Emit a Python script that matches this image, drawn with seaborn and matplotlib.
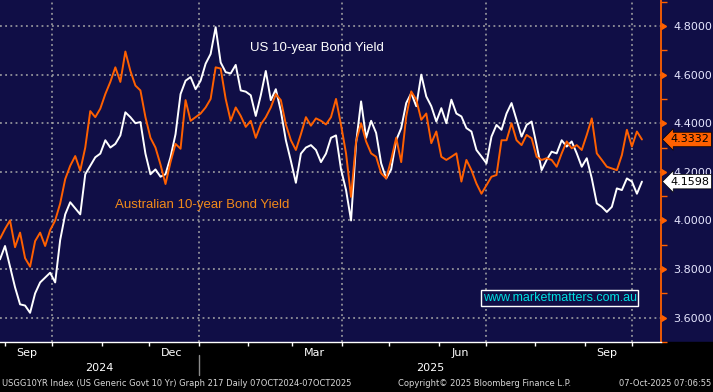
import numpy as np
import pandas as pd
import matplotlib
matplotlib.use("Agg")
import matplotlib.pyplot as plt
import matplotlib.dates as mdates
import matplotlib.transforms as mtransforms
from matplotlib.patches import Rectangle
from matplotlib.ticker import MultipleLocator, FormatStrFormatter
import seaborn as sns

# daily yields, roughly every 3 days from late Aug 2024 to 07 Oct 2025
us_yield = [3.84, 3.895, 3.81, 3.725, 3.655, 3.65, 3.62, 3.70, 3.745, 3.765,
            3.785, 3.745, 3.92, 4.025, 4.075, 4.05, 4.025, 4.19, 4.225, 4.26,
            4.275, 4.33, 4.30, 4.315, 4.35, 4.445, 4.425, 4.40, 4.405, 4.275,
            4.19, 4.21, 4.18, 4.19,
            4.26, 4.355, 4.52, 4.575, 4.59, 4.54, 4.575, 4.645, 4.685, 4.795,
            4.65, 4.61, 4.605, 4.64, 4.535, 4.53, 4.515, 4.43, 4.515, 4.615,
            4.495, 4.54, 4.45, 4.33, 4.245, 4.155, 4.275, 4.30, 4.31, 4.29,
            4.24, 4.275, 4.34,
            4.35, 4.21, 4.125, 4.0, 4.318, 4.49, 4.34, 4.41, 4.36, 4.235,
            4.173, 4.21, 4.33, 4.38, 4.483, 4.524, 4.47, 4.60, 4.51, 4.47,
            4.407, 4.462, 4.40, 4.497, 4.44, 4.428, 4.38, 4.366, 4.29, 4.263,
            4.235, 4.345, 4.393,
            4.373, 4.44, 4.483, 4.414, 4.345, 4.393, 4.407, 4.31, 4.207, 4.249,
            4.283, 4.276, 4.33, 4.304, 4.325, 4.276, 4.221, 4.256, 4.173, 4.07,
            4.056, 4.035, 4.056, 4.132, 4.125, 4.173, 4.16, 4.11, 4.1598]

au_yield = [3.925, 3.965, 4.0, 3.89, 3.95, 3.845, 3.81, 3.915, 3.95, 3.895,
            3.96, 4.00, 4.07, 4.17, 4.225, 4.265, 4.205, 4.30, 4.45, 4.425,
            4.46, 4.52, 4.57, 4.63, 4.57, 4.695, 4.615, 4.555, 4.535, 4.425,
            4.34, 4.30, 4.23, 4.15,
            4.24, 4.315, 4.295, 4.495, 4.41, 4.425, 4.44, 4.465, 4.50, 4.63,
            4.625, 4.50, 4.41, 4.465, 4.43, 4.385, 4.41, 4.34, 4.395, 4.425,
            4.465, 4.52, 4.495, 4.395, 4.33, 4.29, 4.355, 4.425, 4.39, 4.42,
            4.41, 4.395, 4.425,
            4.50, 4.393, 4.276, 4.097, 4.325, 4.40, 4.325, 4.276, 4.262, 4.194,
            4.173, 4.25, 4.34, 4.24, 4.428, 4.531, 4.497, 4.414, 4.44, 4.318,
            4.366, 4.262, 4.249, 4.262, 4.276, 4.16, 4.249, 4.207, 4.152, 4.11,
            4.145, 4.18, 4.187,
            4.33, 4.33, 4.40, 4.33, 4.31, 4.352, 4.338, 4.262, 4.249, 4.256,
            4.249, 4.221, 4.276, 4.325, 4.297, 4.31, 4.29, 4.352, 4.42, 4.276,
            4.249, 4.221, 4.214, 4.207, 4.269, 4.373, 4.304, 4.366, 4.3332]

start_date, end_date = "2024-08-29", "2025-10-07"
view_start, view_end = "2024-08-29", "2025-10-19"
y_ticks = [3.6, 3.8, 4.0, 4.2, 4.4, 4.6, 4.8]
month_labels = ["Sep", "Dec", "Mar", "Jun", "Sep"]
us_label = "US 10-year Bond Yield"
au_label = "Australian 10-year Bond Yield"
footer_left = "USGG10YR Index (US Generic Govt 10 Yr) Graph 217 Daily 07OCT2024-07OCT2025"
footer_mid = "Copyright\u00a9 2025 Bloomberg Finance L.P."
footer_right = "07-Oct-2025 07:06:55"
watermark = "www.marketmatters.com.au"

navy = "#100e46"
orange = "#ff6000"

sns.set_style("dark", {"axes.facecolor": navy, "figure.facecolor": navy})
plt.rcParams["font.family"] = ["DejaVu Sans"]

df = pd.DataFrame({
    "date": pd.date_range(start_date, end_date, periods=len(us_yield)),
    "US": us_yield,
    "AU": au_yield,
})

W, H = 713, 392
fig = plt.figure(figsize=(W / 100, H / 100), dpi=100)
fig.patches.append(Rectangle((0, 0), 1, 50 / H, transform=fig.transFigure,
                             color="black", zorder=-1))
ax = fig.add_axes([0, 50 / H, 661 / W, 342 / H])

sns.lineplot(data=df, x="date", y="US", ax=ax, color="white", lw=1.4)
sns.lineplot(data=df, x="date", y="AU", ax=ax, color=orange, lw=1.4)

ax.set_xlim(pd.Timestamp(view_start), pd.Timestamp(view_end))
ax.set_ylim(3.50, 4.907)
ax.set_xlabel("")
ax.set_ylabel("")

# grid
grid_kw = dict(color="#a8a8a8", lw=1.1, ls=(0, (1.2, 2.2)))
ax.grid(False)
ax.set_yticks(y_ticks)
for v in y_ticks:
    ax.axhline(v, zorder=1, **grid_kw)
for d in pd.date_range("2024-10-01", "2025-10-01", freq="QS"):
    ax.axvline(d, zorder=1, **grid_kw)

# x axis
ax.xaxis.set_major_locator(mdates.MonthLocator())
ax.tick_params(axis="x", which="both", length=3, width=1, color="white",
               direction="out", labelbottom=False, bottom=True)
blend = mtransforms.blended_transform_factory(ax.transData, ax.transAxes)
mid_months = pd.date_range("2024-09-01", "2025-09-01", freq="3MS") + pd.Timedelta(days=14)
for d, name in zip(mid_months, month_labels):
    ax.text(d, -0.032, name, transform=blend, ha="center", va="center",
            color="white", fontsize=8)
x0, x1 = ax.get_xlim()
ny = mdates.date2num(pd.Timestamp("2025-01-01"))
ax.text((x0 + ny) / 2, -0.076, "2024", transform=blend, ha="center", va="center",
        color="white", fontsize=8)
ax.text((ny + x1) / 2, -0.076, "2025", transform=blend, ha="center", va="center",
        color="white", fontsize=8)
ax.plot([ny, ny], [-0.038, -0.096], transform=blend, color="#8c8c8c", lw=1,
        clip_on=False)

# y axis on the right
ax.yaxis.tick_right()
ax.yaxis.set_major_formatter(FormatStrFormatter("%.4f"))
ax.yaxis.set_minor_locator(MultipleLocator(0.1))
ax.tick_params(axis="y", which="major", length=0, pad=9, labelsize=8,
               labelcolor="#e6e6ff", right=True, left=False)
ax.tick_params(axis="y", which="minor", length=4, width=1, color=orange,
               direction="out", right=True, left=False)
yblend = mtransforms.blended_transform_factory(ax.transAxes, ax.transData)
ax.plot([1.0] * len(y_ticks), y_ticks, transform=yblend, ls="none", marker=9,
        markersize=5, color=orange, clip_on=False, zorder=4)

for side in ["left", "top"]:
    ax.spines[side].set_visible(False)
ax.spines["right"].set_color(orange)
ax.spines["right"].set_linewidth(1.3)
ax.spines["bottom"].set_color("white")
ax.spines["bottom"].set_linewidth(1)

# last value tags
ax.text(1.014, au_yield[-1], f"{au_yield[-1]:.4f}", transform=yblend,
        ha="left", va="center", fontsize=8, color="black", zorder=6,
        bbox=dict(boxstyle="larrow,pad=0.2", fc=orange, ec="black", lw=0.5))
ax.text(1.014, us_yield[-1], f"{us_yield[-1]:.4f}", transform=yblend,
        ha="left", va="center", fontsize=8, color="black", zorder=6,
        bbox=dict(boxstyle="larrow,pad=0.2", fc="white", ec="black", lw=0.5))

# annotations
ax.text(0.378, 0.86, us_label, transform=ax.transAxes, color="white",
        fontsize=9.5, family="Liberation Sans", va="center")
ax.text(0.174, 0.40, au_label, transform=ax.transAxes, color="#f28a1a",
        fontsize=9.5, family="Liberation Sans", va="center")
ax.text(0.8465, 0.1287, watermark, transform=ax.transAxes, color="#00e0e0",
        fontsize=9, family="Liberation Sans", ha="center", va="center",
        bbox=dict(boxstyle="square,pad=0.15", fc=navy, ec="white", lw=1))

# footer
fig.text(2 / W, 8 / H, footer_left, color="#d8d8d8", fontsize=6, va="center")
fig.text(398 / W, 8 / H, footer_mid, color="#d8d8d8", fontsize=6, va="center")
fig.text(711 / W, 8 / H, footer_right, color="#d8d8d8", fontsize=6, va="center",
         ha="right")

fig.savefig("out.png", dpi=100, facecolor=navy)
